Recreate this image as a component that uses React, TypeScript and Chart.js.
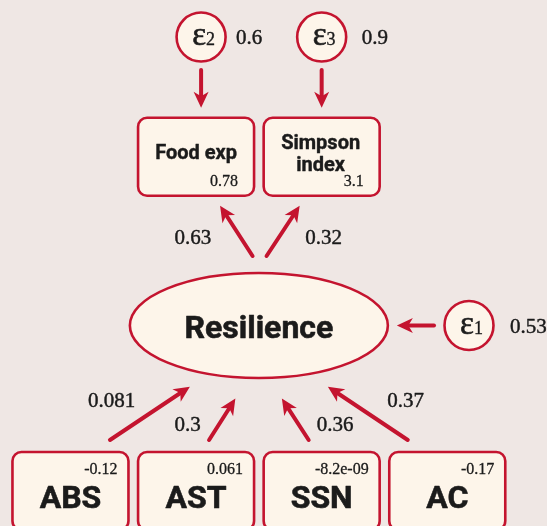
import React, { useEffect, useRef } from "react";
import { Chart, registerables } from "chart.js";

Chart.register(...registerables);

// ---------- data ----------
const latentName = "Resilience";
const latentErrorVar = 0.53;
const outcomeLines = [["Food exp"], ["Simpson", "index"]];
const outcomeLoadings = [0.63, 0.32];
const outcomeIntercepts = [0.78, 3.1];
const outcomeErrorVars = [0.6, 0.9];
const predictorNames = ["ABS", "AST", "SSN", "AC"];
const predictorCoefs = [0.081, 0.3, 0.36, 0.37];
const predictorMeans = [-0.12, 0.061, -8.2e-9, -0.17];
const errorNames = ["ε", "ε", "ε"];
const errorIndex = [1, 2, 3];

// ---------- layout (column / level units) ----------
const predictorCols = [0, 1, 2, 3];
const predictorLevel = 0;
const outcomeCols = [1, 2];
const outcomeLevel = 2.02;
const latentCol = 1.5;
const latentLevel = 1;
const outcomeErrorCols = [1.04, 2.0];
const outcomeErrorLevel = 2.743;
const latentErrorCol = 3.173;

const BG = "#efe7e4";
const FILL = "#fdf5ea";
const RED = "#c4142f";
const INK = "#1b1b1b";
const SANS = "Roboto, 'DejaVu Sans', sans-serif";
const SERIF = "'Liberation Serif', 'DejaVu Serif', serif";

function fmt(v: number): string {
  if (v !== 0 && Math.abs(v) < 1e-4) {
    const s = v.toExponential(1);
    return s.replace(/e([+-])(\d)$/, "e$10$2");
  }
  return String(v);
}

function heavyText(ctx: CanvasRenderingContext2D, t: string, x: number, y: number, w = 0.45) {
  ctx.save();
  ctx.strokeStyle = INK;
  ctx.lineWidth = w;
  ctx.lineJoin = "round";
  ctx.fillStyle = INK;
  ctx.fillText(t, x, y);
  ctx.strokeText(t, x, y);
  ctx.restore();
}

function drawArrow(ctx: CanvasRenderingContext2D, x1: number, y1: number, x2: number, y2: number) {
  const ang = Math.atan2(y2 - y1, x2 - x1);
  const c = Math.cos(ang), s = Math.sin(ang);
  const headLen = 16, headW = 7.5, notch = 4.5;
  const bx = x2 - c * (headLen - notch - 1), by = y2 - s * (headLen - notch - 1);
  ctx.save();
  ctx.strokeStyle = RED;
  ctx.fillStyle = RED;
  ctx.lineWidth = 4;
  ctx.lineCap = "round";
  ctx.beginPath();
  ctx.moveTo(x1, y1);
  ctx.lineTo(bx, by);
  ctx.stroke();
  const px = -s, py = c;
  const nx = x2 - c * (headLen - notch), ny = y2 - s * (headLen - notch);
  ctx.beginPath();
  ctx.moveTo(x2, y2);
  ctx.lineTo(x2 - c * headLen + px * headW, y2 - s * headLen + py * headW);
  ctx.lineTo(nx, ny);
  ctx.lineTo(x2 - c * headLen - px * headW, y2 - s * headLen - py * headW);
  ctx.closePath();
  ctx.fill();
  ctx.restore();
}

function roundRect(ctx: CanvasRenderingContext2D, x: number, y: number, w: number, h: number, r: number) {
  ctx.beginPath();
  ctx.moveTo(x + r, y);
  ctx.lineTo(x + w - r, y);
  ctx.arcTo(x + w, y, x + w, y + r, r);
  ctx.lineTo(x + w, y + h - r);
  ctx.arcTo(x + w, y + h, x + w - r, y + h, r);
  ctx.lineTo(x + r, y + h);
  ctx.arcTo(x, y + h, x, y + h - r, r);
  ctx.lineTo(x, y + r);
  ctx.arcTo(x, y, x + r, y, r);
  ctx.closePath();
}

const BOX_W = 116, BOX_H = 78, BOX_R = 9;
const CIRC_R = 24.5;
const ELL_RX = 129, ELL_RY = 52.5;

const pathPlugin = {
  id: "semPaths",
  beforeDraw(chart: any) {
    const ctx = chart.ctx as CanvasRenderingContext2D;
    ctx.save();
    ctx.fillStyle = BG;
    ctx.fillRect(0, 0, chart.width, chart.height);
    ctx.restore();
  },
  afterDatasetsDraw(chart: any) {
    const ctx = chart.ctx as CanvasRenderingContext2D;
    const pts = (i: number) => chart.getDatasetMeta(i).data.map((e: any) => ({ x: e.x, y: e.y }));
    const P = pts(0); // predictors
    const O = pts(1); // outcomes
    const L = pts(2)[0]; // latent
    const E = pts(3); // outcome errors
    const E1 = pts(4)[0]; // latent error

    // ---- arrows ----
    const pStartDx = [39.5, 13, -13, -39.5];
    const pEnd = [[-69, 61.2], [-23.5, 73.1], [23, 73.1], [69, 61.2]];
    const pLabelOff = [[-38.4, -13.8], [-34.7, 4.7], [39.9, 4.7], [37.9, -13.8]];
    ctx.save();
    ctx.font = `21px ${SERIF}`;
    ctx.textAlign = "center";
    ctx.textBaseline = "alphabetic";
    P.forEach((p: any, i: number) => {
      const x1 = p.x + pStartDx[i], y1 = p.y - 51;
      const x2 = L.x + pEnd[i][0], y2 = L.y + pEnd[i][1];
      drawArrow(ctx, x1, y1, x2, y2);
      const mx = (x1 + x2) / 2 + pLabelOff[i][0], my = (y1 + y2) / 2 + pLabelOff[i][1];
      heavyText(ctx, fmt(predictorCoefs[i]), mx, my + 7);
    });

    const oStartDx = [-6.3, 7.7];
    const oEndDx = [24, -22];
    const oLabelOff = [[-43.4, 6.5], [40.6, 6.5]];
    O.forEach((o: any, j: number) => {
      const x1 = L.x + oStartDx[j], y1 = L.y - 69.5;
      const x2 = o.x + oEndDx[j], y2 = o.y + 49;
      drawArrow(ctx, x1, y1, x2, y2);
      const mx = (x1 + x2) / 2 + oLabelOff[j][0], my = (y1 + y2) / 2 + oLabelOff[j][1];
      heavyText(ctx, fmt(outcomeLoadings[j]), mx, my + 7);
    });

    E.forEach((e: any, j: number) => {
      drawArrow(ctx, e.x, e.y + 33, e.x, O[j].y - 49);
    });
    drawArrow(ctx, E1.x - 35, E1.y, L.x + ELL_RX + 9, E1.y);
    ctx.restore();

    // ---- nodes ----
    ctx.save();
    ctx.lineWidth = 2.6;
    ctx.strokeStyle = RED;
    ctx.fillStyle = FILL;

    // latent ellipse
    ctx.beginPath();
    ctx.ellipse(L.x, L.y, ELL_RX, ELL_RY, 0, 0, Math.PI * 2);
    ctx.fillStyle = FILL;
    ctx.fill();
    ctx.stroke();
    ctx.fillStyle = INK;
    ctx.font = `bold 32px ${SANS}`;
    ctx.textAlign = "center";
    heavyText(ctx, latentName, L.x, L.y + 12, 0.6);

    // outcome boxes
    O.forEach((o: any, j: number) => {
      const x = o.x - BOX_W / 2, y = o.y - BOX_H / 2;
      roundRect(ctx, x, y, BOX_W, BOX_H, BOX_R);
      ctx.fillStyle = FILL;
      ctx.fill();
      ctx.stroke();
      ctx.font = `bold 20px ${SANS}`;
      ctx.textAlign = "center";
      const lines = outcomeLines[j];
      if (lines.length === 1) {
        heavyText(ctx, lines[0], o.x, y + 41, 0.4);
      } else {
        heavyText(ctx, lines[0], o.x - 1, y + 31, 0.4);
        heavyText(ctx, lines[1], o.x - 1, y + 53, 0.4);
      }
      ctx.font = `16px ${SERIF}`;
      ctx.textAlign = "right";
      heavyText(ctx, fmt(outcomeIntercepts[j]), x + BOX_W - 16, y + BOX_H - 10, 0.3);
    });

    // predictor boxes
    P.forEach((p: any, i: number) => {
      const x = p.x - BOX_W / 2, y = p.y - BOX_H / 2;
      roundRect(ctx, x, y, BOX_W, BOX_H, BOX_R);
      ctx.fillStyle = FILL;
      ctx.fill();
      ctx.stroke();
      ctx.font = `bold 32px ${SANS}`;
      ctx.textAlign = "center";
      heavyText(ctx, predictorNames[i], p.x, y + 56, 0.6);
      ctx.font = `16px ${SERIF}`;
      ctx.textAlign = "right";
      heavyText(ctx, fmt(predictorMeans[i]), x + BOX_W - 11, y + 22, 0.3);
    });

    // error circles
    const drawErr = (c: any, k: number, value: number, labelDx: number) => {
      ctx.beginPath();
      ctx.arc(c.x, c.y, CIRC_R, 0, Math.PI * 2);
      ctx.fillStyle = FILL;
      ctx.fill();
      ctx.stroke();
      ctx.textAlign = "left";
      ctx.font = `33px ${SERIF}`;
      const w1 = ctx.measureText(errorNames[k]).width;
      ctx.font = `18px ${SERIF}`;
      const sub = String(errorIndex[k]);
      const w2 = ctx.measureText(sub).width;
      const left = c.x + 2.5 - (w1 + w2) / 2;
      ctx.font = `33px ${SERIF}`;
      heavyText(ctx, errorNames[k], left, c.y + 8, 0.6);
      ctx.font = `18px ${SERIF}`;
      heavyText(ctx, sub, left + w1, c.y + 8, 0.35);
      ctx.font = `21px ${SERIF}`;
      heavyText(ctx, fmt(value), c.x + labelDx, c.y + 7);
    };
    drawErr(E1, 0, latentErrorVar, 41);
    E.forEach((e: any, j: number) => drawErr(e, j + 1, outcomeErrorVars[j], j === 0 ? 35 : 40));
    ctx.restore();
  },
};

export default function App() {
  const ref = useRef<HTMLCanvasElement | null>(null);
  useEffect(() => {
    if (!ref.current) return;
    const pt = (xs: number[], y: number) => xs.map((x) => ({ x, y }));
    const chart = new Chart(ref.current, {
      type: "scatter",
      data: {
        datasets: [
          { label: "predictors", data: pt(predictorCols, predictorLevel), pointRadius: 0 },
          { label: "outcomes", data: pt(outcomeCols, outcomeLevel), pointRadius: 0 },
          { label: "latent", data: pt([latentCol], latentLevel), pointRadius: 0 },
          { label: "outcome errors", data: pt(outcomeErrorCols, outcomeErrorLevel), pointRadius: 0 },
          { label: "latent error", data: pt([latentErrorCol], latentLevel), pointRadius: 0 },
        ],
      },
      options: {
        responsive: false,
        animation: false,
        devicePixelRatio: 1,
        layout: { padding: 0 },
        plugins: { legend: { display: false }, tooltip: { enabled: false } },
        scales: {
          x: { type: "linear", display: false, min: -0.561, max: 3.794 },
          y: { type: "linear", display: false, min: -0.2115, max: 2.967 },
        },
      },
      plugins: [pathPlugin],
    });
    return () => chart.destroy();
  }, []);
  return (
    <div style={{ position: "fixed", left: 0, top: 0, width: 547, height: 526, background: BG }}>
      <canvas ref={ref} width={547} height={526} style={{ display: "block" }} />
    </div>
  );
}
